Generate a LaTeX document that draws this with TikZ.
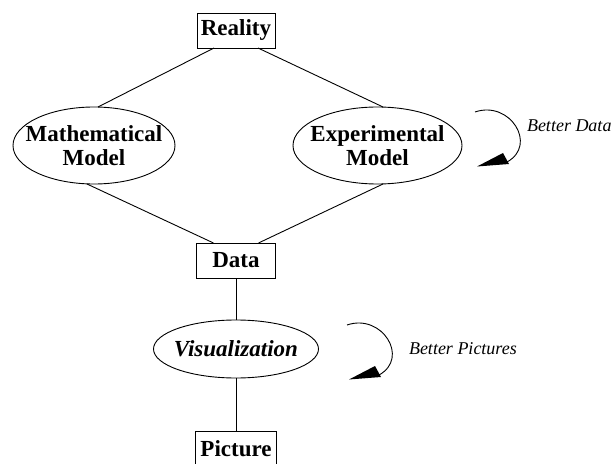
\documentclass[tikz,border=0pt]{standalone}
\usepackage{fontspec}
\setmainfont{Liberation Serif}

\tikzset{
  every node/.style={inner sep=0pt, outer sep=0pt},
  boxnode/.style={draw, line width=0.9bp, minimum height=35bp,
    font=\fontsize{23bp}{24bp}\selectfont\bfseries},
  % text holder for an oval; the oval itself is drawn round it afterwards
  ovalnode/.style={align=center, font=\fontsize{23bp}{24bp}\selectfont\bfseries},
  ovalline/.style={line width=0.9bp},
  link/.style={line width=0.9bp},
  loopline/.style={line width=0.9bp},
  looplabel/.style={anchor=west, font=\fontsize{18bp}{19bp}\selectfont\itshape}
}

% a curved self-loop with a wedge-shaped head, drawn relative to its start
\newcommand\refineloop[1]{%
  \begin{scope}[shift={#1}]
    \coordinate (ls) at (0,0);
    \coordinate (le) at (32,50);
    \draw[loopline] (ls) .. controls (35,-12) and (63,33) .. (le);
    \fill (2,54.5) -- (28,41) -- (34,52) -- cycle;
  \end{scope}}

\begin{document}
\begin{tikzpicture}[x=1bp, y=-1bp]
  \useasboundingbox (0,0) rectangle (612,464);
  \begin{scope}
    \clip (0,0) rectangle (612,464);

    \node[boxnode, minimum width=78bp] (reality) at (236,30.5) {Reality};
    \node[ovalnode, minimum width=162bp, minimum height=77bp] (math) at (94,145.5)
      {Mathematical\\Model};
    \node[ovalnode, minimum width=169bp, minimum height=77bp] (expt) at (377.5,145.5)
      {Experimental\\Model};
    \node[boxnode, minimum width=79bp] (data) at (236,260.5) {Data};
    \node[ovalnode, minimum width=165bp, minimum height=58bp,
      font=\fontsize{23bp}{24bp}\selectfont\bfseries\itshape] (vis) at (236,349)
      {Visualization};
    \node[boxnode, minimum width=81bp] (pic) at (236,448.5) {Picture};

    \draw[ovalline] (math.center) ellipse [x radius=81, y radius=38.5];
    \draw[ovalline] (expt.center) ellipse [x radius=84.5, y radius=38.5];
    \draw[ovalline] (vis.center) ellipse [x radius=82.5, y radius=29];

    \draw[link] ([xshift=-22bp]reality.south) -- ([xshift=4bp]math.north);
    \draw[link] ([xshift=22bp]reality.south) -- ([xshift=5.5bp]expt.north);
    \draw[link] ([xshift=-7bp]math.south) -- ([xshift=-22.5bp]data.north);
    \draw[link] ([xshift=5.5bp]expt.south) -- ([xshift=22.5bp]data.north);
    \draw[link] (data.south) -- (vis.north);
    \draw[link] (vis.south) -- (pic.north);

    \refineloop{(475,112)}
    \node[looplabel] (betterdata) at (527,126) {Better Data};
    \refineloop{(347,325)}
    \node[looplabel] (betterpics) at (409,349) {Better Pictures};
  \end{scope}
\end{tikzpicture}
\end{document}
